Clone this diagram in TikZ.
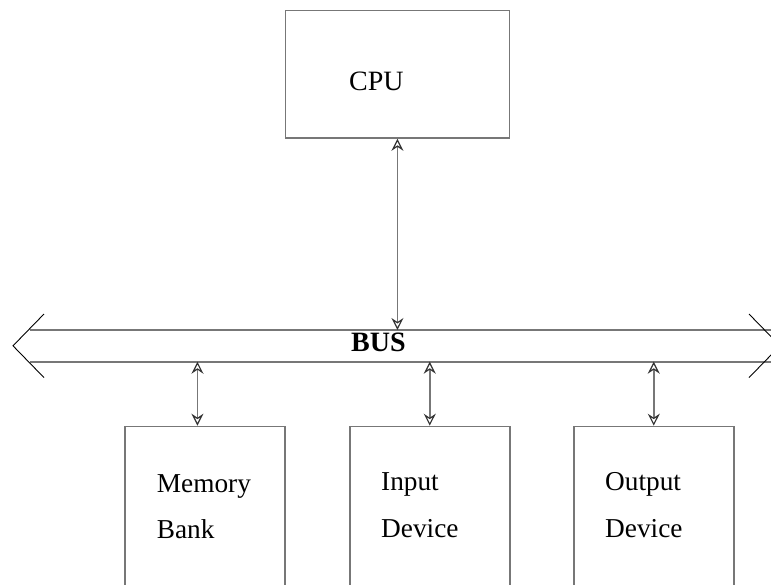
\documentclass[tikz,border=0pt]{standalone}
\usepackage{fontspec}
\setmainfont{Liberation Serif}
\usetikzlibrary{arrows.meta}
\begin{document}
\begin{tikzpicture}[x=1pt,y=-1pt,
  unitbox/.style={draw=linegray,line width=1.5pt,rectangle,inner sep=0pt,anchor=north west},
  biarrow/.style={draw=linegray,line width=1.5pt,{Stealth[open,length=12pt,width=12pt,inset=4pt,line width=1.2pt,color=tipgray]}-{Stealth[open,length=12pt,width=12pt,inset=4pt,line width=1.2pt,color=tipgray]}},
  busline/.style={draw=linegray,line width=1.6pt},
  chevron/.style={draw=black,line width=0.9pt},
  lbl/.style={anchor=base west,inner sep=0pt,font=\fontsize{27.3}{32}\selectfont}]
\definecolor{linegray}{HTML}{777777}
\definecolor{tipgray}{HTML}{333333}
\useasboundingbox (0,0) rectangle (771,584);
\clip (0,0) rectangle (771,584);

% processor
\node[unitbox,minimum width=224pt,minimum height=127.6pt] (cpu) at (284.7,9.7) {};
\node[lbl,font=\fontsize{28}{32}\selectfont] (cputxt) at (349,90) {CPU};

% system bus
\coordinate (bT) at (30,330);
\coordinate (bB) at (30,361.7);
\coordinate (bTR) at (790,330);
\coordinate (bBR) at (790,361.7);
\draw[busline] (bT) -- (bTR);
\draw[busline] (bB) -- (bBR);
\coordinate (ltip) at (13,345.8);
\coordinate (rtip) at (780,345.8);
\draw[chevron] (44,314) -- (ltip) -- (44,377.6);
\draw[chevron] (749,314) -- (rtip) -- (749,377.6);
\node[anchor=base west,inner sep=0pt,font=\bfseries\fontsize{28}{32}\selectfont] (bus) at (351,351.7) {BUS};

% attached units
\node[unitbox,minimum width=160pt,minimum height=200pt] (mem) at (124.3,425.7) {};
\node[unitbox,minimum width=160pt,minimum height=200pt] (inp) at (349,425.7) {};
\node[unitbox,minimum width=160pt,minimum height=200pt] (outp) at (573,425.7) {};

\node[lbl] (memA) at (156.7,492.7) {Memory};
\node[lbl] (memB) at (156.7,538) {Bank};
\node[lbl] (inpA) at (381,490) {Input};
\node[lbl] (inpB) at (381,537.7) {Device};
\node[lbl] (outA) at (605,490) {Output};
\node[lbl] (outB) at (605,537.7) {Device};

% bus connections
\draw[biarrow] (cpu.south) -- (cpu.south |- bT);
\draw[biarrow] ([xshift=-7.6pt]mem.north |- bB) -- ([xshift=-7.6pt]mem.north);
\draw[biarrow] (inp.north |- bB) -- (inp.north);
\draw[biarrow] (outp.north |- bB) -- (outp.north);
\end{tikzpicture}
\end{document}
